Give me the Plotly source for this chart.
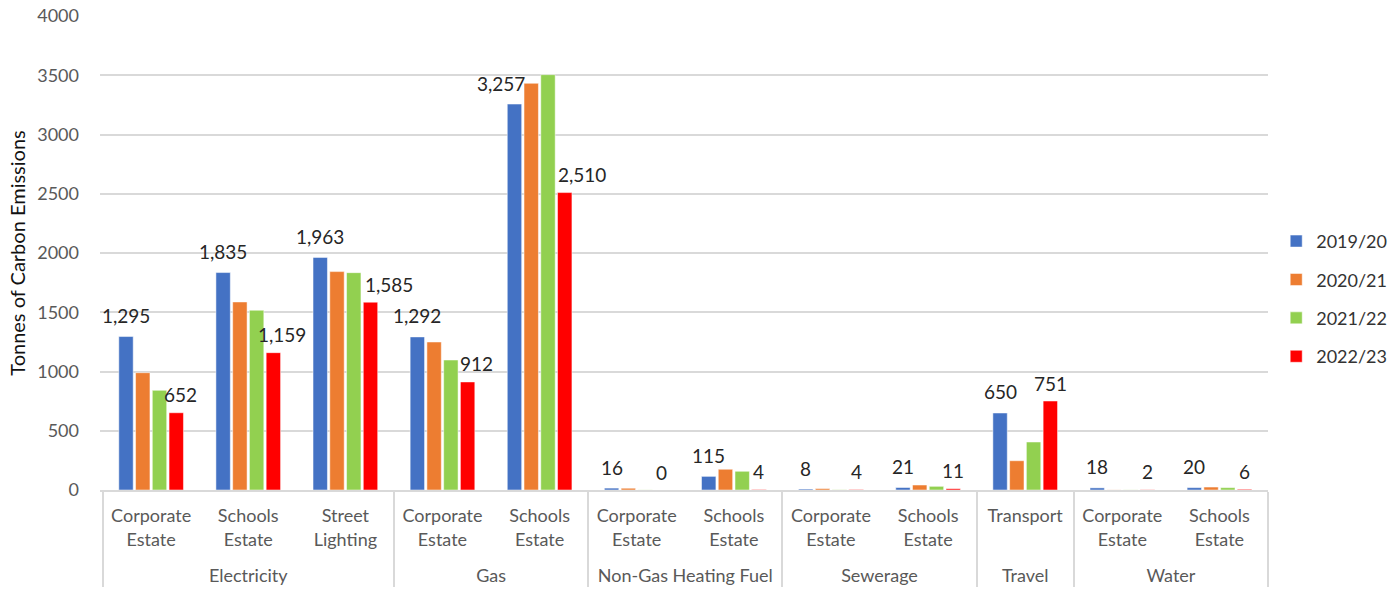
import plotly.graph_objects as go

groups = ["Electricity", "Electricity", "Electricity", "Gas", "Gas",
          "Non-Gas Heating Fuel", "Non-Gas Heating Fuel", "Sewerage", "Sewerage",
          "Travel", "Water", "Water"]
subcats = ["Corporate<br>Estate", "Schools<br>Estate", "Street<br>Lighting",
           "Corporate<br>Estate", "Schools<br>Estate",
           "Corporate<br>Estate", "Schools<br>Estate",
           "Corporate<br>Estate", "Schools<br>Estate",
           "Transport",
           "Corporate<br>Estate", "Schools<br>Estate"]

series_names = ["2019/20", "2020/21", "2021/22", "2022/23"]
v2019 = [1295, 1835, 1963, 1292, 3257, 16, 115, 8, 21, 650, 18, 20]
v2020 = [990, 1587, 1843, 1249, 3432, 15, 175, 12, 42, 247, 1, 25]
v2021 = [841, 1517, 1834, 1097, 3505, 1, 158, 2, 31, 405, 1, 20]
v2022 = [652, 1159, 1585, 912, 2510, 0, 4, 4, 11, 751, 2, 6]
all_values = [v2019, v2020, v2021, v2022]
colors = ["#4472C4", "#ED7D31", "#92D050", "#FF0000"]

# which series carry data labels, and label styling (pixel nudges, not data)
labelled_series = [0, 3]
label_lift = {0: 21, 3: 18}
label_xnudge = {(0, 4): -13, (3, 0): 4, (3, 1): 9, (3, 2): 18, (3, 3): 9, (3, 4): 17}

BARGAP = 0.31
BARGROUPGAP = 0.14

# pad subcategory labels so the group labels sit lower
pad = "<br><span style='font-size:8px'> </span>"
sub_labels = [s + pad if "<br>" in s else s + "<br> " + pad for s in subcats]

fig = go.Figure()
for name, vals, col in zip(series_names, all_values, colors):
    fig.add_trace(go.Bar(
        name=name, x=[groups, sub_labels], y=vals, legendgroup=name,
        marker=dict(color=col, line=dict(color="white", width=0.5)),
        cliponaxis=False,
    ))

# data labels as annotations placed at each bar's slot on the category axis
n = len(series_names)
slot = (1 - BARGAP) / n
for i in labelled_series:
    for j, v in enumerate(all_values[i]):
        xpos = j - (1 - BARGAP) / 2 + (i + 0.5) * slot
        fig.add_annotation(
            x=xpos, y=v, xref="x", yref="y", text=f"{v:,}", showarrow=False,
            xanchor="center", yanchor="middle",
            yshift=label_lift[i], xshift=label_xnudge.get((i, j), 0),
            font=dict(family="Lato", size=19, color="#262626"),
        )

fig.update_layout(
    width=1394, height=593,
    margin=dict(l=100, r=126, t=16, b=103),
    paper_bgcolor="white", plot_bgcolor="white",
    barmode="group", bargap=BARGAP, bargroupgap=BARGROUPGAP,
    font=dict(family="Lato", size=17, color="#595959"),
    legend=dict(xref="container", yref="container", x=0.9155, y=0.496,
                yanchor="middle", xanchor="left",
                font=dict(size=18, color="#333333"), tracegroupgap=12,
                itemwidth=30),
    yaxis=dict(range=[0, 4000], dtick=500, showgrid=True, gridcolor="#D9D9D9",
               gridwidth=1.5, zeroline=False, showline=False, automargin=False,
               tickfont=dict(size=18, color="#595959"), ticklabelstandoff=20,
               title=dict(text="Tonnes of Carbon Emissions",
                          font=dict(size=20, color="#111111"), standoff=6)),
    xaxis=dict(type="multicategory", showline=True, linecolor="#D9D9D9", linewidth=1.5,
               showdividers=True, dividercolor="#D9D9D9", dividerwidth=1.5,
               automargin=False, ticklabelstandoff=9,
               tickfont=dict(size=18, color="#595959"), ticks=""),
)
fig.write_html("out.html", config={"displayModeBar": False},
               post_script="document.body.style.margin='0';")
